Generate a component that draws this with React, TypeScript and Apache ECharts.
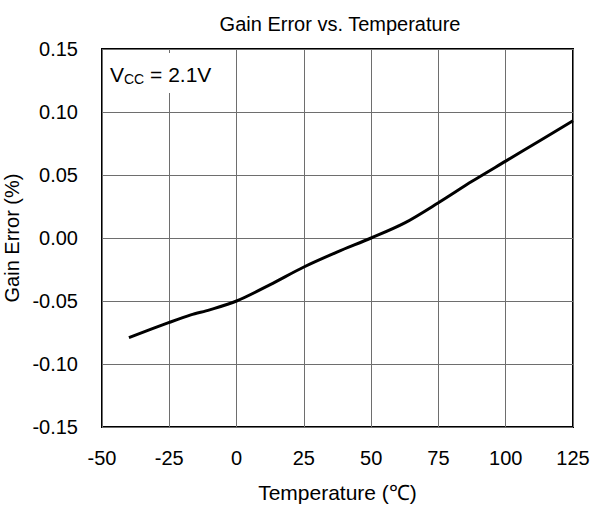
import React, { useEffect, useRef } from "react";
import * as echarts from "echarts";

const temps = [-40, -25, -17, -10, 0, 12.5, 25, 37.5, 50, 62.5, 75, 87.5, 100, 112.5, 125];
const gainError = [-0.079, -0.067, -0.061, -0.057, -0.05, -0.037, -0.023, -0.011, 0, 0.012, 0.028, 0.045, 0.061, 0.077, 0.093];
const title = "Gain Error vs. Temperature";
const xName = "Temperature (℃)";
const yName = "Gain Error (%)";

export default function App() {
  const ref = useRef<HTMLDivElement>(null);
  useEffect(() => {
    const chart = echarts.init(ref.current!, null, { renderer: "svg" });
    const font = "Liberation Sans, Arial, sans-serif";
    chart.setOption({
      animation: false,
      backgroundColor: "#fff",
      textStyle: { fontFamily: font },
      title: {
        text: title,
        left: 335,
        top: 9,
        textAlign: "center",
        textStyle: { fontFamily: font, fontSize: 20, fontWeight: "normal", color: "#000" },
      },
      grid: {
        left: 102,
        right: 31,
        top: 49,
        bottom: 80,
        containLabel: false,
        outerBoundsMode: "none",
        show: true,
        borderColor: "#000",
        borderWidth: 2,
        backgroundColor: "transparent",
      },
      xAxis: {
        type: "value",
        min: -50,
        max: 125,
        interval: 25,
        name: xName,
        nameLocation: "middle",
        nameGap: 55,
        nameTextStyle: { fontFamily: font, fontSize: 21, color: "#000" },
        axisLine: { show: false },
        axisTick: { show: false },
        axisLabel: { fontFamily: font, fontSize: 20, color: "#000", margin: 21 },
        splitLine: { show: true, lineStyle: { color: "#6e6e6e", width: 1 } },
      },
      yAxis: {
        type: "value",
        min: -0.15,
        max: 0.15,
        interval: 0.05,
        name: yName,
        nameLocation: "middle",
        nameGap: 75,
        nameTextStyle: { fontFamily: font, fontSize: 20, color: "#000" },
        axisLine: { show: false },
        axisTick: { show: false },
        axisLabel: {
          fontFamily: font,
          fontSize: 20,
          color: "#000",
          margin: 24,
          formatter: (v: number) => v.toFixed(2),
        },
        splitLine: { show: true, lineStyle: { color: "#6e6e6e", width: 1 } },
      },
      graphic: [
        {
          type: "text",
          left: 105,
          top: 53,
          z: 100,
          style: {
            text: "{v|V}{s|CC}{v| = 2.1V}",
            backgroundColor: "#fff",
            padding: [10, 4, 7, 5],
            rich: {
              v: { fontFamily: font, fontSize: 21, fill: "#000", color: "#000" },
              s: { fontFamily: font, fontSize: 14, color: "#000", fill: "#000", padding: [9, 0, 0, 0] },
            },
          },
        },
      ],
      series: [
        {
          type: "line",
          data: temps.map((t, i) => [t, gainError[i]]),
          smooth: 0.3,
          showSymbol: false,
          lineStyle: { color: "#000", width: 3 },
          z: 5,
        },
      ],
    });
    return () => chart.dispose();
  }, []);
  return <div ref={ref} style={{ width: 604, height: 507, position: "absolute", left: 0, top: 0 }} />;
}
